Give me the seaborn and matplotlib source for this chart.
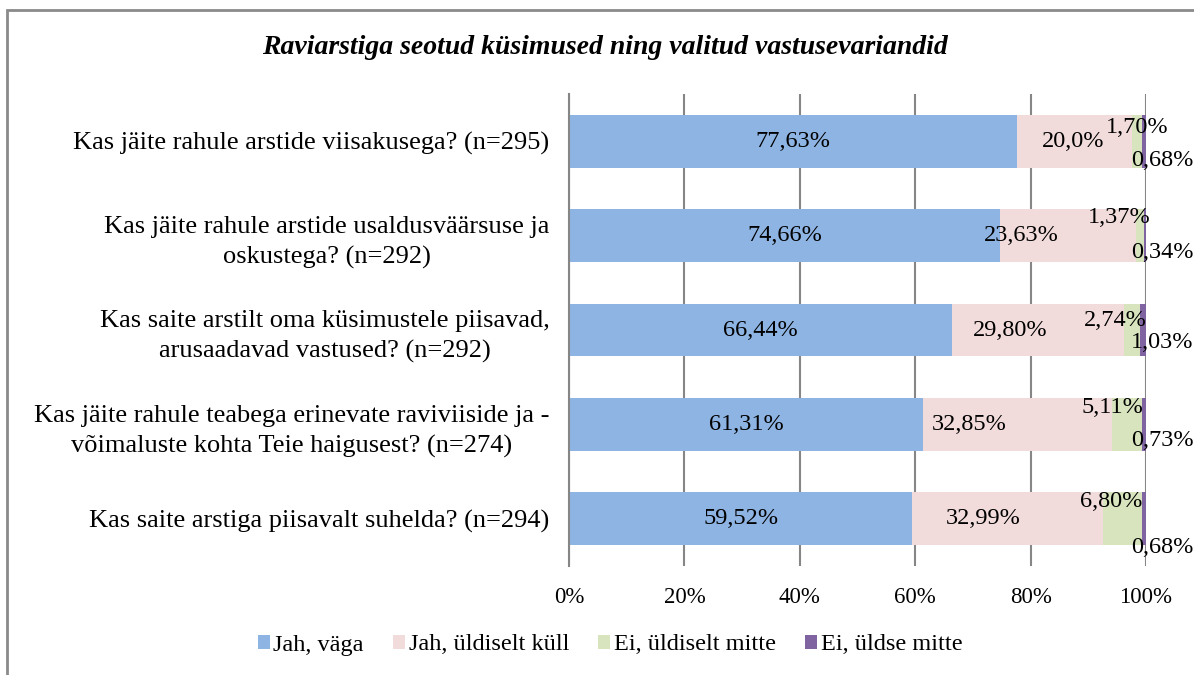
import matplotlib
matplotlib.use("Agg")
import matplotlib.pyplot as plt
import seaborn as sns
import pandas as pd
from matplotlib.patches import Patch, Rectangle

# ---- data ----
categories = [
    "Kas jäite rahule arstide viisakusega? (n=295)",
    "Kas jäite rahule arstide usaldusväärsuse ja\noskustega? (n=292)",
    "Kas saite arstilt oma küsimustele piisavad,\narusaadavad vastused? (n=292)",
    "Kas jäite rahule teabega erinevate raviviiside ja -\nvõimaluste kohta Teie haigusest? (n=274)",
    "Kas saite arstiga piisavalt suhelda? (n=294)",
]
series_names = ["Jah, väga", "Jah, üldiselt küll", "Ei, üldiselt mitte", "Ei, üldse mitte"]
jah_vaga = [77.63, 74.66, 66.44, 61.31, 59.52]
jah_yldiselt = [20.0, 23.63, 29.80, 32.85, 32.99]
ei_yldiselt = [1.70, 1.37, 2.74, 5.11, 6.80]
ei_yldse = [0.68, 0.34, 1.03, 0.73, 0.68]
label_decimals = [[2] * 5, [1, 2, 2, 2, 2], [2] * 5, [2] * 5]
tick_values = [0, 20, 40, 60, 80, 100]
tick_labels = ["0%", "20%", "40%", "60%", "80%", "100%"]
title = "Raviarstiga seotud küsimused ning valitud vastusevariandid"

colors = ["#8EB4E3", "#F2DCDB", "#D7E4BD", "#8064A2"]

# label layout (offsets, not data)
pink_dx = [-0.3, -8.0, -4.9, -8.4, -4.2]
green_x = [98.4, 95.3, 94.6, 94.1, 93.9]
green_dy = [-0.14, -0.19, -0.10, -0.18, -0.18]
purple_x = 102.8
purple_dy = [0.20, 0.18, 0.13, 0.17, 0.30]
label_size = 17.5

sns.set_theme(style="white")
plt.rcParams["font.family"] = ["Liberation Serif", "DejaVu Serif"]
plt.rcParams["text.color"] = "black"
plt.rcParams["xtick.color"] = "black"
plt.rcParams["ytick.color"] = "black"

fig = plt.figure(figsize=(11.94, 6.75), dpi=100)
ax = fig.add_axes([569 / 1194, 1 - 566 / 675, (1146 - 569) / 1194, (566 - 94) / 675])

values = [jah_vaga, jah_yldiselt, ei_yldiselt, ei_yldse]
cum = [0.0] * len(categories)
cums = []
for v in values:
    cum = [c + x for c, x in zip(cum, v)]
    cums.append(cum)

# draw stacked bars by overdrawing cumulative totals (largest first)
for i in range(len(values) - 1, -1, -1):
    d = pd.DataFrame({"cat": categories, "val": cums[i]})
    sns.barplot(data=d, x="val", y="cat", orient="h", color=colors[i],
                saturation=1, width=0.56, linewidth=0, ax=ax, errorbar=None)

ax.set_xlim(0, 100)
ax.set_ylim(4.5, -0.5)
ax.set_xticks(tick_values)
ax.set_xticklabels(tick_labels, fontsize=16.5)
ax.set_xlabel("")
ax.set_ylabel("")
ax.tick_params(axis="x", length=0, pad=15, labelcolor="black")
ax.tick_params(axis="y", length=0, pad=14, labelcolor="black")
for lab in ax.get_yticklabels():
    lab.set_fontsize(19)
    lab.set_multialignment("center")
    lab.set_linespacing(1.45)
for s in ["top", "right", "bottom"]:
    ax.spines[s].set_visible(False)
ax.spines["left"].set_color("#868686")
ax.spines["left"].set_linewidth(1.5)
ax.set_axisbelow(True)
ax.grid(axis="x", color="#868686", linewidth=1.5)
ax.grid(axis="y", visible=False)

def fmt(v, d):
    return f"{v:.{d}f}".replace(".", ",") + "%"

for r in range(len(categories)):
    ax.text(jah_vaga[r] / 2, r, fmt(jah_vaga[r], label_decimals[0][r]),
            ha="center", va="center", fontsize=label_size, color="black")
    ax.text(jah_vaga[r] + jah_yldiselt[r] / 2 + pink_dx[r], r,
            fmt(jah_yldiselt[r], label_decimals[1][r]),
            ha="center", va="center", fontsize=label_size, color="black")
    ax.text(green_x[r], r + green_dy[r], fmt(ei_yldiselt[r], label_decimals[2][r]),
            ha="center", va="center", fontsize=label_size, color="black")
    ax.text(purple_x, r + purple_dy[r], fmt(ei_yldse[r], label_decimals[3][r]),
            ha="center", va="center", fontsize=label_size, color="black")

fig.text(0.507, 1 - 47 / 675, title, ha="center", va="center", color="black",
         fontsize=20, fontweight="bold", fontstyle="italic")

handles = [Patch(facecolor=c, edgecolor="none") for c in colors]
leg = fig.legend(handles, series_names, loc="center", bbox_to_anchor=(0.511, 1 - 645 / 675),
                 ncol=4, frameon=False, fontsize=17.5, handlelength=0.5, handleheight=0.5,
                 handletextpad=0.15, columnspacing=1.2)
for t in leg.get_texts():
    t.set_color("black")

# outer frame
fig.patches.append(Rectangle((7 / 1194, -0.1), 1.2, 1 - 10 / 675 + 0.1,
                             transform=fig.transFigure, fill=False,
                             edgecolor="#8a8a8a", linewidth=2))

fig.savefig("out.png", dpi=100)
